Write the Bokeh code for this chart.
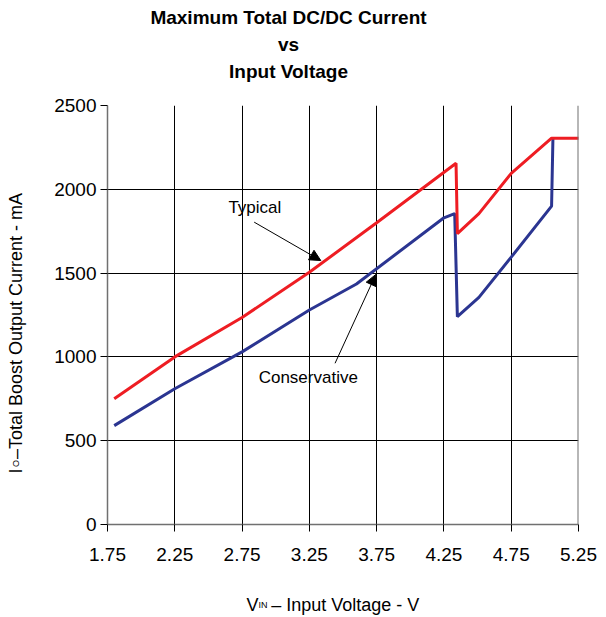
import math
from bokeh.plotting import figure
from bokeh.models import Label, Arrow, NormalHead, Span, Range1d
from bokeh.layouts import column, row
from bokeh.embed import file_html
from bokeh.resources import INLINE

# ---- data ----
x_ticks = [1.75, 2.25, 2.75, 3.25, 3.75, 4.25, 4.75, 5.25]
y_ticks = [0, 500, 1000, 1500, 2000, 2500]

typical_v = [1.80, 2.25, 2.75, 3.25, 3.75, 4.34, 4.35, 4.51, 4.75, 5.05, 5.26]
typical_ma = [750, 1000, 1235, 1505, 1800, 2155, 1735, 1855, 2095, 2305, 2305]

conservative_v = [1.80, 2.25, 2.75, 3.25, 3.60, 4.25, 4.33, 4.35, 4.51, 4.75, 5.05, 5.06]
conservative_ma = [590, 810, 1030, 1280, 1435, 1830, 1855, 1240, 1355, 1595, 1900, 2305]

title_lines = ["Maximum Total DC/DC Current", "vs", "Input Voltage"]

FONT = "Liberation Sans"
RED = "#EE1D23"
BLUE = "#2B3591"
AXIS_GRAY = "#707070"


def blank(w, h):
    f = figure(width=w, height=h, x_range=Range1d(0, 1), y_range=Range1d(0, 1),
               output_backend="svg", toolbar_location=None,
               x_axis_location=None, y_axis_location=None, min_border=0)
    f.outline_line_color = None
    f.grid.visible = False
    return f


def lab(f, x, y, text, size, align="left", angle=0.0, style="normal"):
    f.add_layout(Label(x=x, y=y, x_units="screen", y_units="screen", text=text,
                       angle=angle, text_align=align, text_baseline="alphabetic",
                       text_font=FONT, text_font_size=size, text_font_style=style,
                       text_color="black"))


# ---- title strip ----
T = blank(598, 93)
for txt, sy in zip(title_lines, [76.3, 49.0, 21.7]):
    lab(T, 288, sy, txt, "19px", align="center", style="bold")

# ---- y label strip ----
Y = blank(41, 476)
lab(Y, 15, 51, "I", "18px", angle=math.pi / 2)
lab(Y, 15, 57.5, "O", "9px", angle=math.pi / 2)
lab(Y, 15, 65.5, "–Total Boost Output Current - mA", "18px", angle=math.pi / 2)

# ---- main plot ----
p = figure(width=557, height=476,
           x_range=Range1d(1.75, 5.25), y_range=Range1d(0, 2500),
           output_backend="svg", toolbar_location=None,
           min_border_left=66, min_border_right=20,
           min_border_top=12, min_border_bottom=45)
p.outline_line_color = None

p.xaxis.ticker = x_ticks
p.yaxis.ticker = y_ticks
for ax in (p.xaxis, p.yaxis):
    ax.axis_line_color = AXIS_GRAY
    ax.axis_line_width = 1.5
    ax.major_tick_line_color = "black"
    ax.major_tick_line_width = 1
    ax.major_tick_out = 7
    ax.major_tick_in = 0
    ax.minor_tick_line_color = None
    ax.major_label_text_font = FONT
    ax.major_label_text_font_size = "19px"
    ax.major_label_text_color = "black"
p.xaxis.major_label_standoff = 16
p.yaxis.major_label_standoff = 4

for g in (p.xgrid, p.ygrid):
    g.grid_line_color = "black"
    g.grid_line_width = 1
    g.grid_line_alpha = 1.0

p.add_layout(Span(location=5.25, dimension="height", line_color=AXIS_GRAY, line_width=2))

p.line(conservative_v, conservative_ma, line_color=BLUE, line_width=3)
p.line(typical_v, typical_ma, line_color=RED, line_width=3)

p.add_layout(Label(x=2.845, y=1890, text="Typical", text_align="center",
                   text_baseline="alphabetic", text_font=FONT, text_font_size="17px",
                   text_color="black"))
p.add_layout(Label(x=3.242, y=876, text="Conservative", text_align="center",
                   text_baseline="alphabetic", text_font=FONT, text_font_size="17px",
                   text_color="black"))
p.add_layout(Arrow(end=NormalHead(size=11, fill_color="black", line_color="black"),
                   x_start=2.84, y_start=1804, x_end=3.335, y_end=1575,
                   line_color="black", line_width=1))
p.add_layout(Arrow(end=NormalHead(size=11, fill_color="black", line_color="black"),
                   x_start=3.441, y_start=962, x_end=3.744, y_end=1492,
                   line_color="black", line_width=1))

# ---- x label strip ----
X = blank(598, 46)
lab(X, 246, 10.5, "V", "18px")
lab(X, 258, 10.5, "IN", "9px")
lab(X, 270.7, 10.5, "– Input Voltage - V", "18px")

layout = column(T, row(Y, p), X)

open("out.html", "w").write(file_html(layout, INLINE))
